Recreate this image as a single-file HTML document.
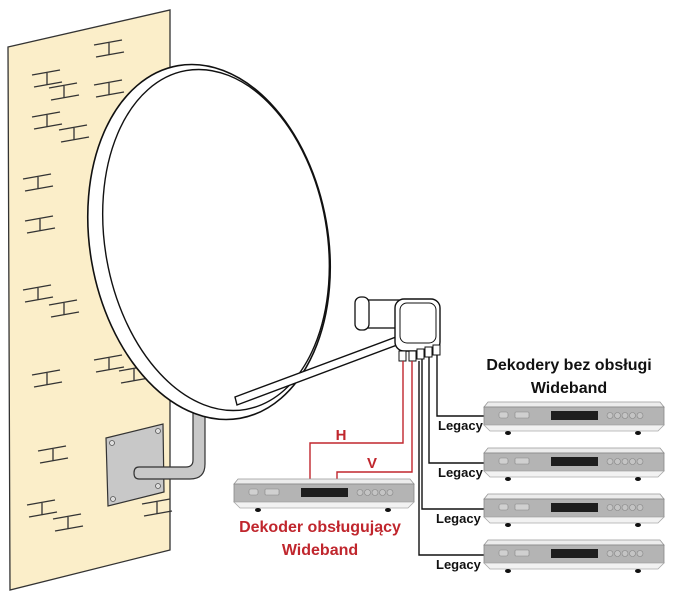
<!DOCTYPE html>
<html><head><meta charset="utf-8"><style>
html,body{margin:0;padding:0;background:#fff;width:673px;height:600px;overflow:hidden}
svg{display:block}
text{font-family:"Liberation Sans",sans-serif;font-weight:bold}
</style></head><body>
<svg width="673" height="600" viewBox="0 0 673 600" xmlns="http://www.w3.org/2000/svg">
<defs>
<g id="hm" stroke="#333" stroke-width="1.3" fill="none">
<line x1="-15" y1="-4" x2="13" y2="-9"/><line x1="-13" y1="8" x2="15" y2="3"/><line x1="0" y1="-6" x2="0" y2="6"/>
</g>
<g id="box">
<polygon points="2,0 174,0 178,5 -2,5" fill="#ececec" stroke="#999" stroke-width="0.8"/>
<rect x="-2" y="5" width="180" height="18" fill="#b4b4b4" stroke="#888" stroke-width="0.8"/>
<polygon points="-2,23 178,23 172,29 4,29" fill="#f2f2f2" stroke="#aaa" stroke-width="0.8"/>
<rect x="13" y="10" width="9" height="6" rx="2" fill="#d0d0d0" stroke="#888" stroke-width="0.6"/>
<rect x="29" y="10" width="14" height="6" rx="1" fill="#d0d0d0" stroke="#888" stroke-width="0.6"/>
<rect x="65" y="9" width="47" height="9" fill="#1e1e1e"/>
<g fill="#c4c4c4" stroke="#888" stroke-width="0.6"><circle cx="124" cy="13.5" r="3"/><circle cx="131.5" cy="13.5" r="3"/><circle cx="139" cy="13.5" r="3"/><circle cx="146.5" cy="13.5" r="3"/><circle cx="154" cy="13.5" r="3"/></g>
<ellipse cx="22" cy="31" rx="3" ry="2" fill="#111"/><ellipse cx="152" cy="31" rx="3" ry="2" fill="#111"/>
</g>
</defs>
<!-- wall -->
<polygon points="8,47 170,10 170,550 10,590" fill="#fbeec9" stroke="#333" stroke-width="1.3"/>
<g>
<use href="#hm" x="109" y="49"/><use href="#hm" x="47" y="79"/><use href="#hm" x="64" y="92"/><use href="#hm" x="109" y="89"/>
<use href="#hm" x="47" y="121"/><use href="#hm" x="74" y="134"/><use href="#hm" x="38" y="183"/><use href="#hm" x="40" y="225"/>
<use href="#hm" x="38" y="294"/><use href="#hm" x="64" y="309"/><use href="#hm" x="109" y="364"/><use href="#hm" x="134" y="375"/>
<use href="#hm" x="47" y="379"/><use href="#hm" x="53" y="455"/><use href="#hm" x="42" y="509"/><use href="#hm" x="68" y="523"/><use href="#hm" x="157" y="508"/>
</g>
<!-- bracket plate -->
<polygon points="106,438 163,424 164,492 108,506" fill="#c8c8c8" stroke="#333" stroke-width="1.2"/>
<g fill="#ddd" stroke="#555" stroke-width="0.8"><circle cx="112" cy="443" r="2.5"/><circle cx="158" cy="431" r="2.5"/><circle cx="158" cy="486" r="2.5"/><circle cx="113" cy="499" r="2.5"/></g>
<!-- pipe -->
<path d="M193,405 L193,460 Q193,467 186,467 L139,467 Q134,467 134,473 Q134,479 139,479 L190,479 Q205,479 205,464 L205,405 Z" fill="#c8c8c8" stroke="#333" stroke-width="1.2"/>
<!-- dish -->
<ellipse cx="209" cy="242" rx="119" ry="179" transform="rotate(-10 209 242)" fill="#fff" stroke="#111" stroke-width="1.6"/>
<ellipse cx="216" cy="240" rx="111" ry="172" transform="rotate(-10 216 240)" fill="#fff" stroke="#111" stroke-width="1.4"/>
<!-- arm -->
<polygon points="235,397 396,337 397,345 237,405" fill="#fff" stroke="#111" stroke-width="1.4"/>
<!-- LNB -->
<rect x="360" y="300" width="40" height="28" fill="#fff" stroke="#111" stroke-width="1.3"/>
<rect x="355" y="297" width="14" height="33" rx="6" fill="#fff" stroke="#111" stroke-width="1.3"/>
<rect x="395" y="299" width="45" height="52" rx="9" fill="#fff" stroke="#111" stroke-width="1.4"/>
<rect x="400" y="303" width="36" height="40" rx="7" fill="none" stroke="#111" stroke-width="1"/>
<g fill="#fff" stroke="#111" stroke-width="1">
<rect x="399" y="351" width="7" height="10"/><rect x="409" y="351" width="7" height="10"/><rect x="417" y="349" width="7" height="10"/><rect x="425" y="347" width="7" height="10"/><rect x="433" y="345" width="7" height="10"/>
</g>
<!-- red cables -->
<g fill="none" stroke="#c0262d" stroke-width="1.4">
<polyline points="403,361 403,443 310,443 310,480"/>
<polyline points="412,361 412,472 337,472 337,480"/>
</g>
<!-- black cables -->
<g fill="none" stroke="#111" stroke-width="1.4">
<polyline points="437,355 437,416 486,416"/>
<polyline points="429,357 429,463 486,463"/>
<polyline points="422,359 422,509 486,509"/>
<polyline points="419,361 419,555 486,555"/>
</g>
<!-- boxes -->
<use href="#box" x="486" y="402"/>
<use href="#box" x="486" y="448"/>
<use href="#box" x="486" y="494"/>
<use href="#box" x="486" y="540"/>
<use href="#box" x="236" y="479"/>
<!-- labels -->
<g font-size="13" fill="#111">
<text x="438" y="430">Legacy</text><text x="438" y="477">Legacy</text><text x="436" y="523">Legacy</text><text x="436" y="569">Legacy</text>
</g>
<g font-size="16" fill="#111" text-anchor="middle">
<text x="569" y="370">Dekodery bez obsługi</text><text x="569" y="393">Wideband</text>
</g>
<g font-size="16" fill="#c0262d" text-anchor="middle">
<text x="320" y="532">Dekoder obsługujący</text><text x="320" y="555">Wideband</text>
<text x="341" y="440" font-size="15">H</text><text x="372" y="468" font-size="15">V</text>
</g>
</svg>
</body></html>
